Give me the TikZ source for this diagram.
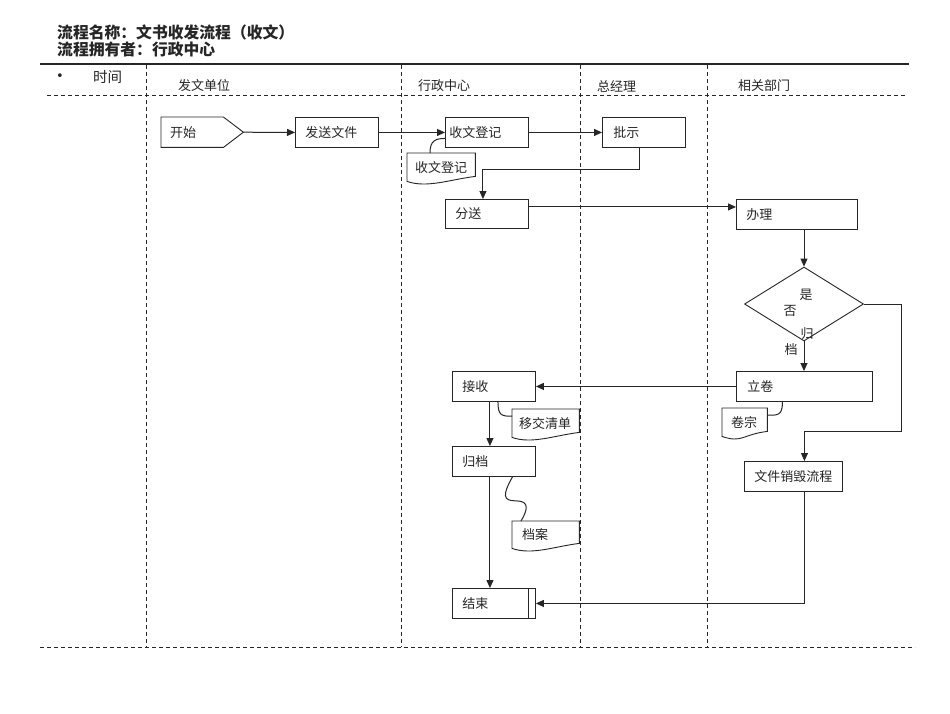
\documentclass[tikz,border=0pt]{standalone}
\usepackage{fontspec}
\setmainfont{Noto Sans CJK SC}
\newfontfamily\symfont{DejaVu Sans}
\usetikzlibrary{shapes.geometric,arrows.meta}
\newcommand\bodyfs{\fontsize{13}{15}\selectfont}
\newcommand\titlefs{\fontsize{15.8}{18}\selectfont}
\newcommand\docshape[1]{\draw[docline] (#1.north west) -- (#1.north east) -- ([yshift=5pt]#1.south east) .. controls +(-25,3) and +(20,7) .. (#1.south west) -- cycle;}
\begin{document}
\begin{tikzpicture}[x=1pt,y=-1pt,
  every node/.style={text=black!85},
  box/.style={draw=black!85,line width=0.9pt,rectangle,anchor=north west,minimum height=30pt,inner ysep=0pt,align=left,font=\bodyfs},
  doc/.style={rectangle,anchor=north west,minimum height=28pt,inner ysep=0pt,align=left,font=\bodyfs},
  docline/.style={draw=black!85,line width=0.9pt},
  conn/.style={draw=black!85,line width=1pt},
  arr/.style={conn,-{Triangle[length=8pt,width=7pt]}},
  lane/.style={draw=black!85,line width=0.8pt,dash pattern=on 4pt off 3pt},
  hdr/.style={anchor=west,font=\bodyfs,inner sep=0pt},
]
\useasboundingbox (0,0) rectangle (950,713);
\fill[white] (0,0) rectangle (950,713);

% title
\node[anchor=west,inner sep=0pt,font=\titlefs\bfseries] (t1) at (57,32) {流程名称：文书收发流程（收文）};
\node[anchor=west,inner sep=0pt,font=\titlefs\bfseries] (t2) at (57,49) {流程拥有者：行政中心};
\draw[line width=1.8pt,black!85] (40,64) -- (909,64);
\draw[lane] (47,95) -- (905,95);
\draw[lane] (40,647) -- (915,647);
\foreach \x in {146,401,580,707} \draw[lane] (\x,65) -- (\x,647);

\node[anchor=west,inner sep=0pt,font=\symfont\fontsize{13}{15}\selectfont] (bul) at (56,77) {•};
\node[anchor=west,inner sep=0pt,font=\fontsize{14.5}{17}\selectfont] (time) at (93,77) {时间};
\node[hdr] (h1) at (178,86) {发文单位};
\node[hdr] (h2) at (418,86) {行政中心};
\node[hdr] (h3) at (597,86) {总经理};
\node[hdr] (h4) at (738,86) {相关部门};

% start
\node[doc,minimum height=30pt,text width=64pt,inner xsep=9pt] (start) at (161,117) {开始};
\draw[docline] (start.north west) -- ([xshift=-20pt]start.north east) -- (start.east) -- ([xshift=-20pt]start.south east) -- (start.south west) -- cycle;

% boxes
\node[box,text width=63pt,inner xsep=10pt] (send) at (295,117) {发送文件};
\node[box,text width=75pt,inner xsep=4pt] (recv) at (445,117) {收文登记};
\node[box,text width=61pt,inner xsep=11pt] (pishi) at (602,117) {批示};
\node[box,text width=63pt,inner xsep=10pt,minimum height=29pt] (fensong) at (445,199) {分送};
\node[box,text width=101pt,inner xsep=10pt] (banli) at (736,199) {办理};
\node[diamond,draw=black!85,line width=0.9pt,minimum width=119pt,minimum height=74pt,inner sep=0pt] (dia) at (804,304) {};
\node[font=\bodyfs,inner sep=0pt] (q1) at (806,295) {是};
\node[font=\bodyfs,inner sep=0pt] (q2) at (790,311) {否};
\node[font=\bodyfs,inner sep=0pt] (q3) at (807,334) {归};
\node[font=\bodyfs,inner sep=0pt] (q4) at (791,350) {档};
\node[box,text width=114pt,inner xsep=11pt] (lijuan) at (736,371) {立卷};
\node[box,text width=63pt,inner xsep=10pt] (jieshou) at (452,371) {接收};
\node[box,text width=63pt,inner xsep=10pt] (guidang) at (452,446) {归档};
\node[box,text width=63pt,inner xsep=10pt] (jieshu) at (452,588) {结束};
\draw[docline] ([xshift=-7pt]jieshu.north east) -- ([xshift=-7pt]jieshu.south east);
\node[box,text width=78pt,inner xsep=10pt,align=center] (xiaohui) at (744,461) {文件销毁流程};

% documents
\node[doc,text width=52pt,inner xsep=8pt] (doc1) at (407,153) {收文登记};
\docshape{doc1}
\node[doc,text width=53pt,inner xsep=7pt] (doc2) at (512,409) {移交清单};
\docshape{doc2}
\node[doc,text width=47pt,inner xsep=10pt,minimum height=27pt] (doc3) at (512,521) {档案};
\docshape{doc3}
\node[doc,text width=27pt,inner xsep=9pt] (doc4) at (722,408) {卷宗};
\docshape{doc4}

% connectors
\draw[arr] (start.east) -- (send.west);
\draw[arr] (send.east) -- (recv.west);
\draw[arr] (recv.east) -- (pishi.west);
\draw[arr] ([xshift=-4pt]pishi.south) -- ++(0,22) -| ([xshift=-4pt]fensong.north);
\draw[arr] ([yshift=7pt]fensong.east) -- ([yshift=7pt]fensong.east -| banli.west);
\draw[arr] (banli.south -| dia.north) -- (dia.north);
\draw[arr] (dia.south) -- (dia.south |- lijuan.north);
\coordinate (rt) at (901,431);
\draw[arr] (dia.east) -| (rt) -| ([xshift=11pt]xiaohui.north);
\draw[arr] (lijuan.west) -- (jieshou.east);
\draw[arr] ([xshift=-4pt]jieshou.south) -- ([xshift=-4pt]guidang.north);
\draw[arr] ([xshift=-4pt]guidang.south) -- ([xshift=-4pt]jieshu.north);
\draw[arr] ([xshift=11pt]xiaohui.south) |- (jieshu.east);

% document links
\draw[conn] ([xshift=23pt]doc1.north west) .. controls +(0,-12) and +(-10,0) .. ([yshift=-6pt]recv.west);
\draw[conn] ([xshift=4pt]jieshou.south) .. controls +(0,14) and +(-10,0) .. ([yshift=7pt]doc2.west);
\draw[conn] ([xshift=-22pt]lijuan.south) .. controls +(0,14) and +(10,0) .. ([yshift=7pt]doc4.east);
\draw[conn] ([xshift=18.5pt]guidang.south) .. controls +(-10,18) and +(-14,0) .. ++(4,24) .. controls +(14,0) and +(6,-10) .. ([xshift=9pt]doc3.north west);
\end{tikzpicture}
\end{document}
